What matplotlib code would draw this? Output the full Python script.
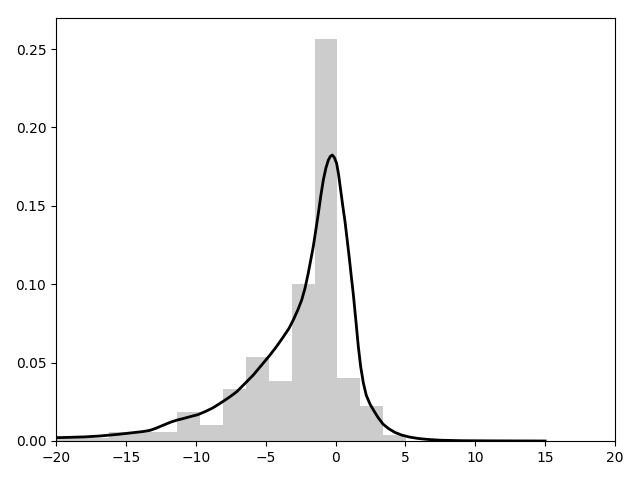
import matplotlib
matplotlib.use("Agg")
import matplotlib.pyplot as plt

# Histogram (density) bins
bin_width = 1.6365
bin_first_edge = -21.14
bin_heights = [0.0017, 0.0017, 0.0017, 0.0055, 0.0055, 0.0058, 0.0183, 0.0102,
               0.0332, 0.0534, 0.0383, 0.1001, 0.2564, 0.0400, 0.0223, 0.0040]

# Density curve
kde_x = [-20, -18, -16.85, -15.5, -14.5, -13.8, -13.27, -12.8, -12.32, -11.8,
         -11.36, -10.9, -10.41, -9.85, -9.34, -8.8, -8.26, -7.65, -7.07, -6.5,
         -5.88, -5.3, -4.69, -4.2, -3.73, -3.35, -3.02, -2.7, -2.42, -2.18,
         -1.95, -1.77, -1.59, -1.41, -1.23, -1.05, -0.87, -0.69, -0.51, -0.37,
         -0.23, -0.08, 0.08, 0.22, 0.37, 0.52, 0.68, 0.84, 0.99, 1.13,
         1.27, 1.45, 1.63, 1.80, 1.99, 2.2, 2.47, 2.8, 3.06, 3.4,
         3.78, 4.25, 4.73, 5.3, 5.93, 6.6, 7.5, 9, 11, 15]
kde_y = [0.0021, 0.0026, 0.0032, 0.0043, 0.0053, 0.0060, 0.0068, 0.0083, 0.0101, 0.0120,
         0.0133, 0.0143, 0.0155, 0.0168, 0.0187, 0.0210, 0.0240, 0.0276, 0.0314, 0.0365,
         0.0421, 0.0483, 0.0548, 0.0605, 0.0665, 0.0715, 0.0772, 0.0835, 0.0899, 0.0975,
         0.1070, 0.1155, 0.1240, 0.1345, 0.1450, 0.1565, 0.1665, 0.1740, 0.1792, 0.1815,
         0.1824, 0.1808, 0.1771, 0.1700, 0.1600, 0.1500, 0.1400, 0.1280, 0.1165, 0.1050,
         0.0940, 0.0775, 0.0605, 0.0475, 0.0372, 0.0292, 0.0235, 0.0185, 0.0148, 0.0108,
         0.0080, 0.0055, 0.0038, 0.0025, 0.0016, 0.0010, 0.0005, 0.0002, 0.0001, 0.0]

edges = [bin_first_edge + i * bin_width for i in range(len(bin_heights) + 1)]

fig, ax = plt.subplots(figsize=(6.4, 4.8), dpi=100)
ax.stairs(bin_heights, edges, fill=True, color='#cccccc', linewidth=0)
ax.plot(kde_x, kde_y, color='black', linewidth=2)
ax.set_xlim(-20, 20)
ax.set_ylim(0, 0.2698)
fig.subplots_adjust(left=56/640, right=615/640, top=1-18/480, bottom=1-441/480)
fig.savefig("out.png")
